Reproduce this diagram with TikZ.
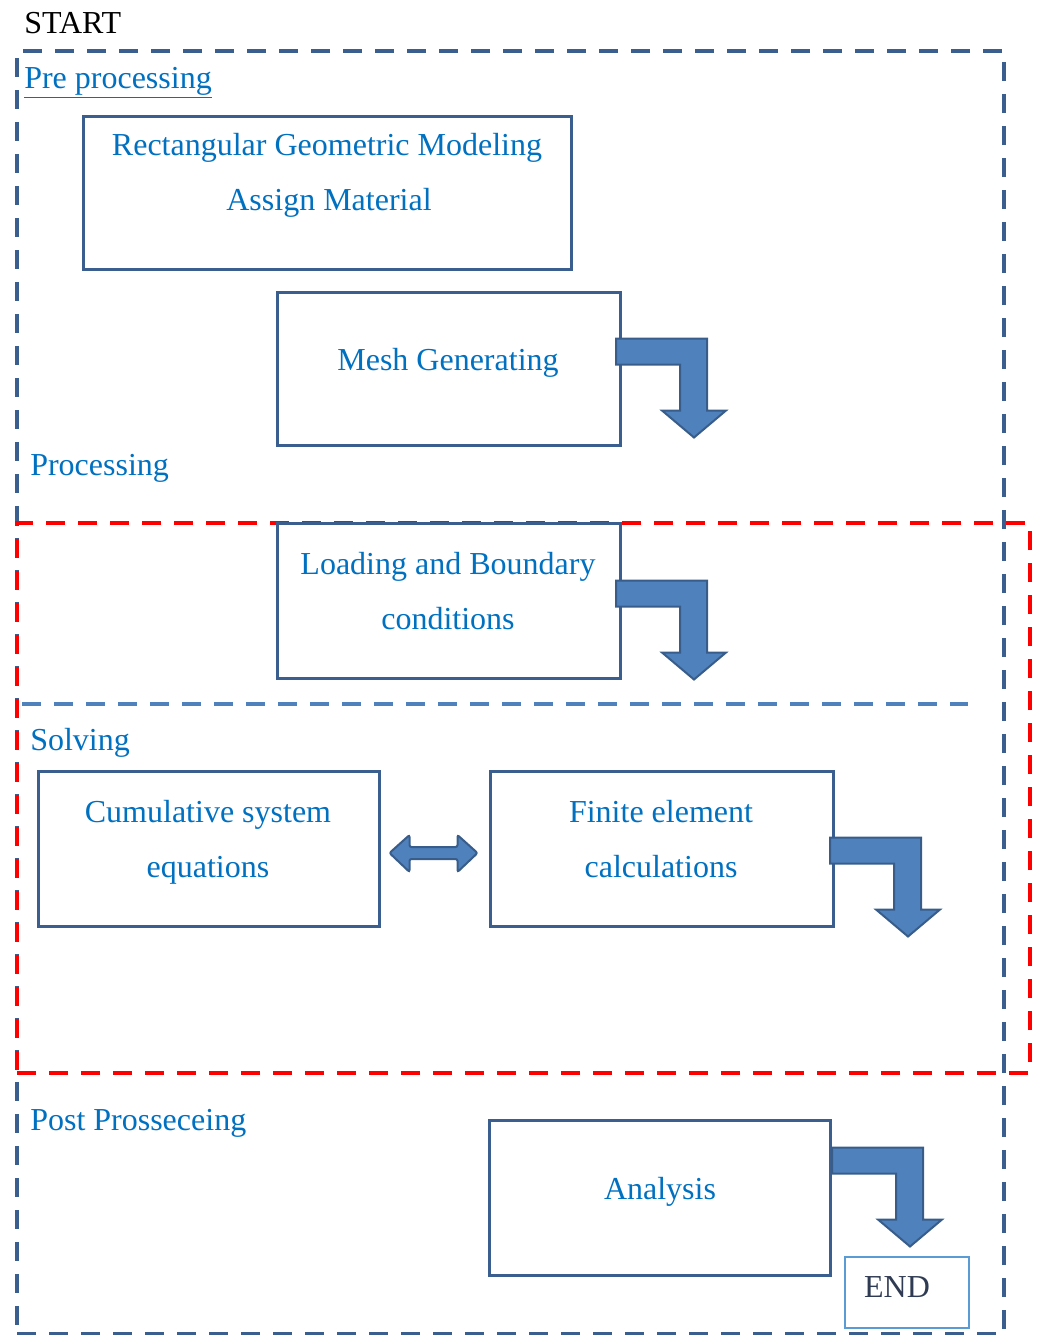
\documentclass[tikz,border=0pt]{standalone}
\usepackage{fontspec}
\setmainfont{Liberation Serif}
\usetikzlibrary{fit,calc}
\definecolor{txtblue}{RGB}{0,112,192}
\definecolor{boxblue}{RGB}{58,95,143}
\definecolor{arrfill}{RGB}{79,129,189}
\definecolor{arrdraw}{RGB}{56,93,138}
\definecolor{sepblue}{RGB}{79,129,189}
\definecolor{endblue}{RGB}{91,155,213}
\definecolor{endtxt}{RGB}{47,59,82}
\begin{document}
\begin{tikzpicture}[x=0.75pt,y=-0.75pt,
  box/.style={draw=boxblue, line width=2.25pt, inner sep=0pt, outer sep=0pt},
  lbl/.style={text=txtblue, font=\fontsize{24}{28}\selectfont, inner sep=0pt, anchor=base},
  outerdash/.style={draw=boxblue, line width=3pt, dash pattern=on 14pt off 10pt, inner sep=0pt, outer sep=0pt},
  reddash/.style={draw=red, line width=3pt, dash pattern=on 14pt off 10pt, inner sep=0pt, outer sep=0pt},
  sepdash/.style={draw=sepblue, line width=3pt, dash pattern=on 14pt off 10pt},
  arrowsty/.style={fill=arrfill, draw=arrdraw, line width=1.5pt, line join=miter},
  bentarrow/.pic={\draw[arrowsty] (0,0) -- (91,0) -- (91,72) -- (110,72) -- (78,99) -- (46,72) -- (64,72) -- (64,26) -- (0,26) -- cycle;},
  dblarrow/.pic={\draw[arrowsty, rounded corners=1.5pt] (-44,0) -- (-24,-18) -- (-24,-6) -- (24,-6) -- (24,-18) -- (44,0) -- (24,19) -- (24,6) -- (-24,6) -- (-24,19) -- cycle;}
]
\useasboundingbox (0,0) rectangle (1042,1335);

% regions
\node[outerdash, fit={(17,51)(1004,1334)}] (preregion) {};
\node[reddash, fit={(17,523)(1030,1073)}] (procregion) {};
\coordinate (sepL) at (22,704);
\coordinate (sepR) at (968,704);
\draw[sepdash] (sepL) -- (sepR);

% titles
\node[anchor=base west, inner sep=0pt, font=\fontsize{24}{28}\selectfont] (start) at (24,33) {START};
\node[lbl, anchor=base west] (pretitle) at (24,88) {\underline{Pre processing}};
\node[lbl, anchor=base west] (proctitle) at (30,475) {Processing};
\node[lbl, anchor=base west] (soltitle) at (30,750) {Solving};
\node[lbl, anchor=base west] (posttitle) at (30,1130) {Post Prosseceing};

% boxes
\node[box, fit={(83,116)(571,269)}] (geo) {};
\node[box, fit={(277,292)(620,445)}] (mesh) {};
\node[box, fit={(277,523)(620,678)}] (load) {};
\node[box, fit={(38,771)(379,926)}] (cum) {};
\node[box, fit={(490,771)(833,926)}] (fin) {};
\node[box, fit={(489,1120)(830,1275)}] (ana) {};
\node[draw=endblue, line width=1.2pt, inner sep=0pt, outer sep=0pt, fit={(845,1257)(969,1328)}] (endbox) {};

% box texts
\node[lbl] (geo1) at (327,155) {Rectangular Geometric Modeling};
\node[lbl] (geo2) at (329,210) {Assign Material};
\node[lbl] (mesh1) at (448,370) {Mesh Generating};
\node[lbl] (load1) at (448,574) {Loading and Boundary};
\node[lbl] (load2) at (448,629) {conditions};
\node[lbl] (cum1) at (208,822) {Cumulative system};
\node[lbl] (cum2) at (208,877) {equations};
\node[lbl] (fin1) at (661,822) {Finite element};
\node[lbl] (fin2) at (661,877) {calculations};
\node[lbl] (ana1) at (660,1199) {Analysis};
\node[inner sep=0pt, anchor=base, text=endtxt, font=\fontsize{24}{28}\selectfont] (end1) at (897,1297) {END};

% arrows
\pic at ($(mesh.east)+(-4,-30)$) {bentarrow};
\pic at ($(load.east)+(-4,-20)$) {bentarrow};
\pic at ($(fin.east)+(-3,-11)$) {bentarrow};
\pic at ($(ana.east)+(2,-50)$) {bentarrow};
\pic at ($($(cum.east)!0.5!(fin.west)$)+(-1,4.5)$) {dblarrow};
\end{tikzpicture}
\end{document}
